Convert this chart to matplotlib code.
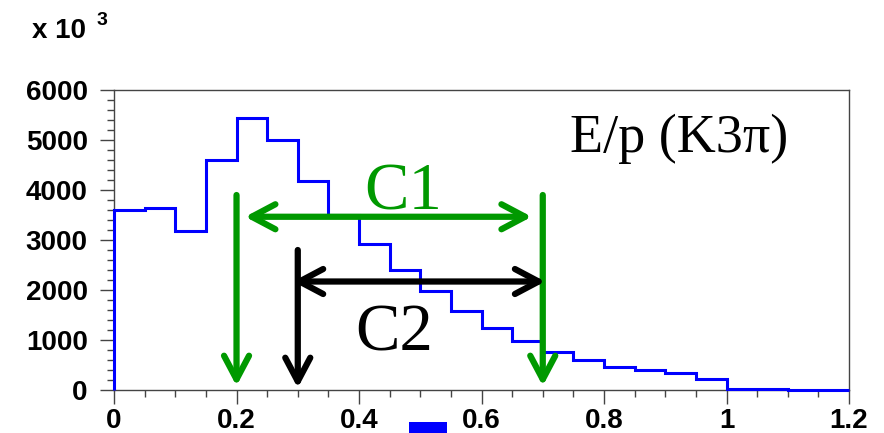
import numpy as np
import matplotlib.pyplot as plt
from matplotlib.patches import FancyArrowPatch, Rectangle
from matplotlib.ticker import MultipleLocator

# E/p histogram, 0.05 wide bins from 0 to 1.2 (counts in units of 10^3)
bin_edges = np.linspace(0.0, 1.2, 25)
counts = [3600, 3640, 3190, 4600, 5450, 5010, 4180, 3500,
          2930, 2410, 1990, 1580, 1250, 990, 770, 610,
          470, 400, 335, 220, 30, 12, 5, 5]

x_ticks = [0, 0.2, 0.4, 0.6, 0.8, 1.0, 1.2]
x_labels = ["0", "0.2", "0.4", "0.6", "0.8", "1", "1.2"]
y_ticks = [0, 1000, 2000, 3000, 4000, 5000, 6000]

# cut markers: (x, top of vertical arrow)
c1_cuts = [(0.2, 3900), (0.7, 3900)]
c2_cut = (0.3, 2800)
c1_span = (0.214, 0.682, 3465)
c2_span = (0.292, 0.704, 2170)

GREEN = "#009900"
tick_font = dict(family="Liberation Sans", weight="bold", size=20)
serif = "Liberation Serif"

fig = plt.figure(figsize=(8.84, 4.33), dpi=100)
ax = fig.add_axes([0.129, 0.0993, 0.8314, 0.6928])

ax.stairs(counts, bin_edges, baseline=0, color="blue", lw=2.2, clip_on=False, zorder=3)

ax.set_xlim(0, 1.2)
ax.set_ylim(0, 6000)
ax.set_xticks(x_ticks)
ax.set_xticklabels(x_labels, fontdict=tick_font)
ax.set_yticks(y_ticks)
ax.set_yticklabels([str(v) for v in y_ticks], fontdict=tick_font)
ax.xaxis.set_minor_locator(MultipleLocator(0.05))
ax.yaxis.set_minor_locator(MultipleLocator(200))
ax.tick_params(which="both", direction="out", color="#444444", width=1)
ax.tick_params(which="major", length=10)
ax.tick_params(which="minor", length=5)
ax.tick_params(axis="y", which="major", pad=9)
ax.tick_params(axis="x", which="major", pad=3)
for s in ax.spines.values():
    s.set_color("#444444")
    s.set_linewidth(1)


def arrow(p0, p1, color, style):
    a = FancyArrowPatch(p0, p1, arrowstyle=style, color=color, lw=4.5,
                        mutation_scale=20, shrinkA=0, shrinkB=0,
                        capstyle="round", joinstyle="round", zorder=4)
    ax.add_patch(a)


head = "->,head_length=0.85,head_width=0.45"
both = "<->,head_length=0.85,head_width=0.45"

for x, top in c1_cuts:
    arrow((x, top), (x, 80), GREEN, head)
arrow((c1_span[0], c1_span[2]), (c1_span[1], c1_span[2]), GREEN, both)

arrow((c2_cut[0], c2_cut[1]), (c2_cut[0], 40), "black", head)
arrow((c2_span[0], c2_span[2]), (c2_span[1], c2_span[2]), "black", both)

ax.text(0.472, 3620, "C1", color=GREEN, family=serif, size=48,
        ha="center", va="baseline", zorder=5)
ax.text(0.457, 800, "C2", color="black", family=serif, size=48,
        ha="center", va="baseline", zorder=5)
ax.text(0.7445, 4770, "E/p (K3\u03c0)", color="black", family=serif, size=39,
        ha="left", va="baseline", zorder=5)

# scale factor label above the y axis
fig.text(0.036, 0.913, "x 10", family="Liberation Sans", weight="bold",
         size=20, ha="left", va="baseline")
fig.text(0.109, 0.942, "3", family="Liberation Sans", weight="bold",
         size=14, ha="left", va="baseline")

# small blue legend swatch below the axis
fig.patches.append(Rectangle((0.4627, 0.0), 0.043, 0.0254, transform=fig.transFigure,
                             facecolor="blue", edgecolor="none"))

fig.savefig("out.png", dpi=100)
